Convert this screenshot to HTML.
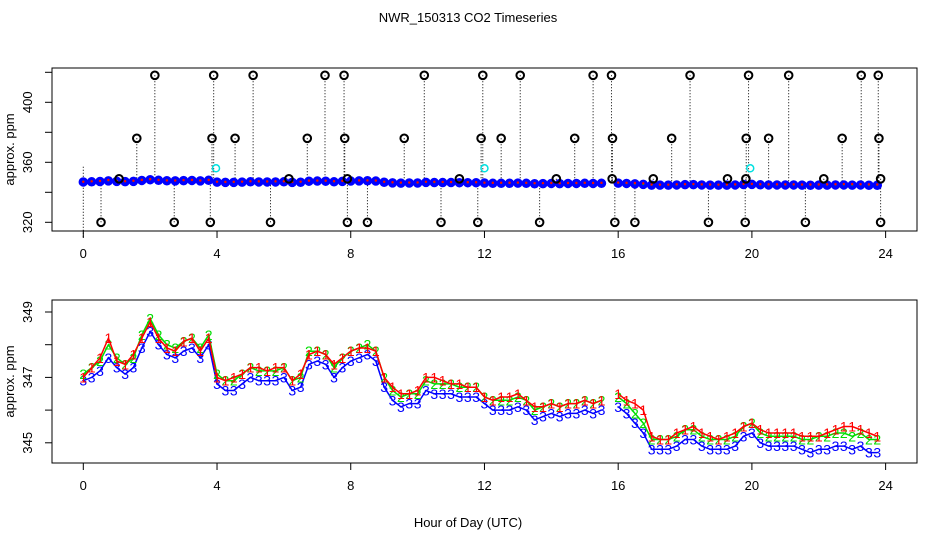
<!DOCTYPE html>
<html><head><meta charset="utf-8"><style>
html,body{margin:0;padding:0;background:#fff;}
svg{display:block;font-family:"Liberation Sans",sans-serif;}
</style></head><body>
<svg id="chart" width="936" height="540" viewBox="0 0 936 540">
<text x="468" y="22" text-anchor="middle" font-size="13">NWR_150313  CO2 Timeseries</text>
<text x="468" y="527" text-anchor="middle" font-size="13">Hour of Day (UTC)</text>
<g id="top"></g>
<g id="bot"></g>
</svg>
<script>
const hours = [0,0.25,0.5,0.75,1,1.25,1.5,1.75,2,2.25,2.5,2.75,3,3.25,3.5,3.75,4,4.25,4.5,4.75,5,5.25,5.5,5.75,6,6.25,6.5,6.75,7,7.25,7.5,7.75,8,8.25,8.5,8.75,9,9.25,9.5,9.75,10,10.25,10.5,10.75,11,11.25,11.5,11.75,12,12.25,12.5,12.75,13,13.25,13.5,13.75,14,14.25,14.5,14.75,15,15.25,15.5,15.75,16,16.25,16.5,16.75,17,17.25,17.5,17.75,18,18.25,18.5,18.75,19,19.25,19.5,19.75,20,20.25,20.5,20.75,21,21.25,21.5,21.75,22,22.25,22.5,22.75,23,23.25,23.5,23.75];
const series3 = [346.9,347.0,347.2,347.6,347.3,347.1,347.3,347.9,348.4,348.0,347.7,347.6,347.8,347.9,347.6,348.0,346.8,346.6,346.6,346.8,347.0,346.9,346.9,346.9,347.0,346.6,346.7,347.4,347.5,347.4,347.0,347.3,347.5,347.6,347.7,347.5,346.7,346.3,346.1,346.2,346.2,346.6,346.5,346.5,346.5,346.4,346.4,346.4,346.2,346.0,346.0,346.0,346.1,346.0,345.7,345.8,345.9,345.8,345.9,345.9,346.0,345.9,346.0,null,346.1,345.9,345.6,345.3,344.8,344.8,344.8,344.9,345.1,345.1,344.9,344.8,344.8,344.8,344.9,345.2,345.3,345.0,344.9,344.9,344.9,344.9,344.8,344.7,344.8,344.8,344.9,344.9,344.8,344.9,344.7,344.7];
const series2 = [347.1,347.3,347.5,348.0,347.6,347.4,347.6,348.3,348.8,348.3,348.0,347.9,348.1,348.2,347.9,348.3,347.1,346.9,346.9,347.1,347.3,347.2,347.2,347.2,347.3,346.9,347.0,347.8,347.8,347.7,347.3,347.6,347.8,347.9,348.0,347.8,347.0,346.6,346.4,346.5,346.5,346.9,346.8,346.8,346.8,346.7,346.7,346.7,346.4,346.3,346.3,346.3,346.4,346.3,346.0,346.1,346.2,346.1,346.2,346.2,346.3,346.2,346.3,null,346.4,346.2,345.9,345.6,345.1,345.1,345.1,345.2,345.4,345.4,345.2,345.1,345.1,345.1,345.2,345.5,345.6,345.3,345.2,345.2,345.2,345.2,345.1,345.1,345.2,345.2,345.3,345.3,345.2,345.3,345.1,345.1];
const series1 = [347.0,347.3,347.6,348.2,347.5,347.4,347.7,348.2,348.7,348.2,347.9,347.8,348.1,348.2,347.8,348.2,347.0,346.9,347.0,347.1,347.3,347.3,347.2,347.3,347.3,346.9,347.1,347.7,347.8,347.7,347.4,347.6,347.8,347.9,347.9,347.8,347.0,346.7,346.5,346.5,346.6,347.0,347.0,346.9,346.8,346.8,346.7,346.7,346.4,346.3,346.4,346.4,346.5,346.3,346.1,346.1,346.2,346.1,346.2,346.2,346.3,346.2,346.3,null,346.5,346.3,346.2,346.0,345.2,345.1,345.1,345.3,345.4,345.5,345.3,345.2,345.1,345.2,345.3,345.5,345.6,345.4,345.3,345.3,345.3,345.3,345.2,345.2,345.2,345.3,345.4,345.5,345.5,345.4,345.3,345.2];
const outlierHours = [2.14,3.9,5.08,7.23,7.8,10.2,11.95,13.07,15.25,15.8,18.15,19.9,21.1,23.27,23.78, 1.6,3.85,4.54,6.7,7.82,9.6,11.9,12.5,14.7,15.83,17.6,19.83,20.5,22.7,23.8, 0.53,2.72,3.8,5.6,7.9,8.5,10.7,11.8,13.65,15.9,16.5,18.7,19.8,21.6,23.85, 1.07,6.15,7.9,11.25,14.15,15.82,17.05,19.27,19.82,22.15,23.85];
const outlierValues = [418,418,418,418,418,418,418,418,418,418,418,418,418,418,418, 376,376,376,376,376,376,376,376,376,376,376,376,376,376,376, 320,320,320,320,320,320,320,320,320,320,320,320,320,320,320, 349,349,349,349,349,349,349,349,349,349,349];
const cyanHours = [3.97,12.0,19.95];
const cyanValues = [356,356,356];
const xTicks = [0,4,8,12,16,20,24];
const topYTicks = [320,340,360,380,400,420];
const topYLabels = [320,360,400];
const botYTicks = [345,346,347,348,349];
const botYLabels = [345,347,349];

const NS = "http://www.w3.org/2000/svg";
const X0 = 52, X1 = 917;
const xs = h => 83.3 + h * 33.43;
const yTop = v => 222.3 - (v - 320) * 1.5;
const yBot = v => 312 + (349 - v) * 32.7;
function mk(tag, attrs, parent, txt) {
  const e = document.createElementNS(NS, tag);
  for (const k in attrs) e.setAttribute(k, attrs[k]);
  if (txt !== undefined) e.textContent = txt;
  parent.appendChild(e);
  return e;
}
function axes(g, top, bottom, yf, yTicks, yLabels, prefix) {
  let r = mk('rect', {x:X0, y:top, width:X1-X0, height:bottom-top, fill:'none', stroke:'#000', 'stroke-width':1}, g);
  
  
  xTicks.forEach(t => {
    let l = mk('line', {x1:xs(t), x2:xs(t), y1:bottom, y2:bottom+7, stroke:'#000'}, g);
    
    
    let tx = mk('text', {x:xs(t), y:bottom+27, 'text-anchor':'middle', 'font-size':13}, g, String(t));
    
    
  });
  yTicks.forEach(t => {
    let l = mk('line', {x1:X0-7, x2:X0, y1:yf(t), y2:yf(t), stroke:'#000'}, g);
    
    
  });
  yLabels.forEach(t => {
    let tx = mk('text', {x:0, y:0, 'text-anchor':'middle', 'font-size':13, transform:`translate(32,${yf(t)}) rotate(-90)`}, g, String(t));
    
    
  });
  let yt = mk('text', {x:0, y:0, 'text-anchor':'middle', 'font-size':13, transform:`translate(14,${(top+bottom)/2}) rotate(-90)`}, g, 'approx. ppm');
  
  
}
const gt = document.getElementById('top');
const gb = document.getElementById('bot');
axes(gt, 68, 231, yTop, topYTicks, topYLabels, 'top');
axes(gb, 300, 463, yBot, botYTicks, botYLabels, 'bottom');

outlierHours.forEach((h, i) => {
  let l = mk('line', {x1:xs(h), x2:xs(h), y1:yTop(outlierValues[i]), y2:yTop(347), stroke:'#000', 'stroke-width':1, 'stroke-dasharray':'1,2'}, gt);
  
  
});
let l0 = mk('line', {x1:xs(0), x2:xs(0), y1:yTop(357), y2:238, stroke:'#000', 'stroke-dasharray':'1,2'}, gt);


[[series3,'#0000ff'],[series2,'#00cc00'],[series1,'#ff0000']].forEach(([s,c], si) => {
  hours.forEach((h, i) => {
    if (s[i] === null) return;
    let cc = mk('circle', {cx:xs(h), cy:yTop(s[i]), r: si===0 ? 3.5 : 1.2, fill: si===0 ? '#0000ff' : c, stroke:c, 'stroke-width': si===0 ? 2.5 : 0}, gt);
    
    
  });
});
outlierHours.forEach((h, i) => {
  let c = mk('circle', {cx:xs(h), cy:yTop(outlierValues[i]), r:3.8, fill:'none', stroke:'#000', 'stroke-width':2}, gt);
  
  
});
cyanHours.forEach((h, i) => {
  let c = mk('circle', {cx:xs(h), cy:yTop(cyanValues[i]), r:3.5, fill:'none', stroke:'#00e0e0', 'stroke-width':1.5}, gt);
  
  
});

[[series3,'#0000ff','3'],[series2,'#00dd00','2'],[series1,'#ff0000','1']].forEach(([s,c,d]) => {
  let dstr = '', pen = false;
  hours.forEach((h, i) => {
    if (s[i] === null) { pen = false; return; }
    dstr += (pen ? 'L' : 'M') + xs(h).toFixed(1) + ' ' + yBot(s[i]).toFixed(1);
    pen = true;
  });
  let p = mk('path', {d:dstr, fill:'none', stroke:c, 'stroke-width':1.5}, gb);
  
  
  hours.forEach((h, i) => {
    if (s[i] === null) return;
    let t = mk('text', {x:xs(h), y:yBot(s[i]) + 5, 'text-anchor':'middle', 'font-size':14, fill:c}, gb, d);
    
    
  });
});
</script>
</body></html>
